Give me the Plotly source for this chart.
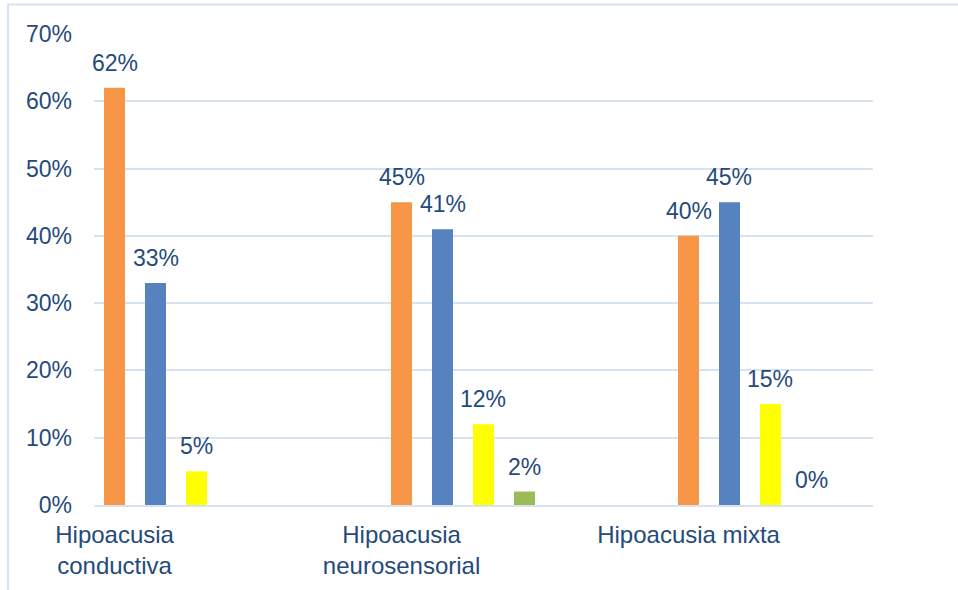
import plotly.graph_objects as go

categories = ["Hipoacusia<br>conductiva", "Hipoacusia<br>neurosensorial", "Hipoacusia mixta"]
series_names = ["Serie 1", "Serie 2", "Serie 3", "Serie 4"]
serie1 = [62, 45, 40]
serie2 = [33, 41, 45]
serie3 = [5, 12, 15]
serie4 = [None, 2, 0]
y_ticks = [0, 10, 20, 30, 40, 50, 60, 70]
y_tick_labels = ["0%", "10%", "20%", "30%", "40%", "50%", "60%", "70%"]

colors = ["#F79646", "#5682BF", "#FFFF00", "#9BBB59"]
text_color = "#244A7C"
grid_color = "#D7E2F2"
FONT = "Liberation Sans, Arial, sans-serif"

all_series = [serie1, serie2, serie3, serie4]
cat_idx = list(range(len(categories)))

fig = go.Figure()
for name, vals, col in zip(series_names, all_series, colors):
    fig.add_bar(x=cat_idx, y=vals, name=name, marker=dict(color=col, line=dict(width=0)))

bargap = 0.4286
slot = (1 - bargap) / len(all_series)
annotations = []
for i, vals in enumerate(all_series):
    off = (i - (len(all_series) - 1) / 2) * slot
    for j, v in enumerate(vals):
        if v is None:
            continue
        annotations.append(dict(x=j + off, y=v, xref="x", yref="y", text=f"{v}%",
                                showarrow=False, yanchor="middle", yshift=25,
                                font=dict(size=23, color=text_color, family=FONT)))

label_shift = -0.214
fig.update_layout(
    width=958, height=590,
    margin=dict(l=94, r=85, t=34, b=85),
    paper_bgcolor="white", plot_bgcolor="white",
    barmode="group", bargap=bargap, bargroupgap=0.488,
    showlegend=False,
    font=dict(family=FONT, size=23, color=text_color),
    xaxis=dict(range=[-0.2857, 2.4286], tickvals=[c + label_shift for c in cat_idx],
               ticktext=categories, showgrid=False, zeroline=False,
               showline=True, linecolor=grid_color, linewidth=2,
               ticks="", ticklabelstandoff=7, tickfont=dict(size=24, color=text_color)),
    yaxis=dict(range=[0, 70], tickvals=y_ticks, ticktext=y_tick_labels, showgrid=True,
               gridcolor=grid_color, gridwidth=2, zeroline=False, showline=False,
               ticks="", ticklabelstandoff=21, tickfont=dict(size=23, color=text_color)),
    annotations=annotations,
    shapes=[dict(type="rect", xref="paper", yref="paper", x0=-0.1104, x1=1.3,
                 y0=-0.5, y1=1.0626, line=dict(color=grid_color, width=2),
                 fillcolor="rgba(0,0,0,0)", layer="below")],
)

fig.write_html("out.html")
